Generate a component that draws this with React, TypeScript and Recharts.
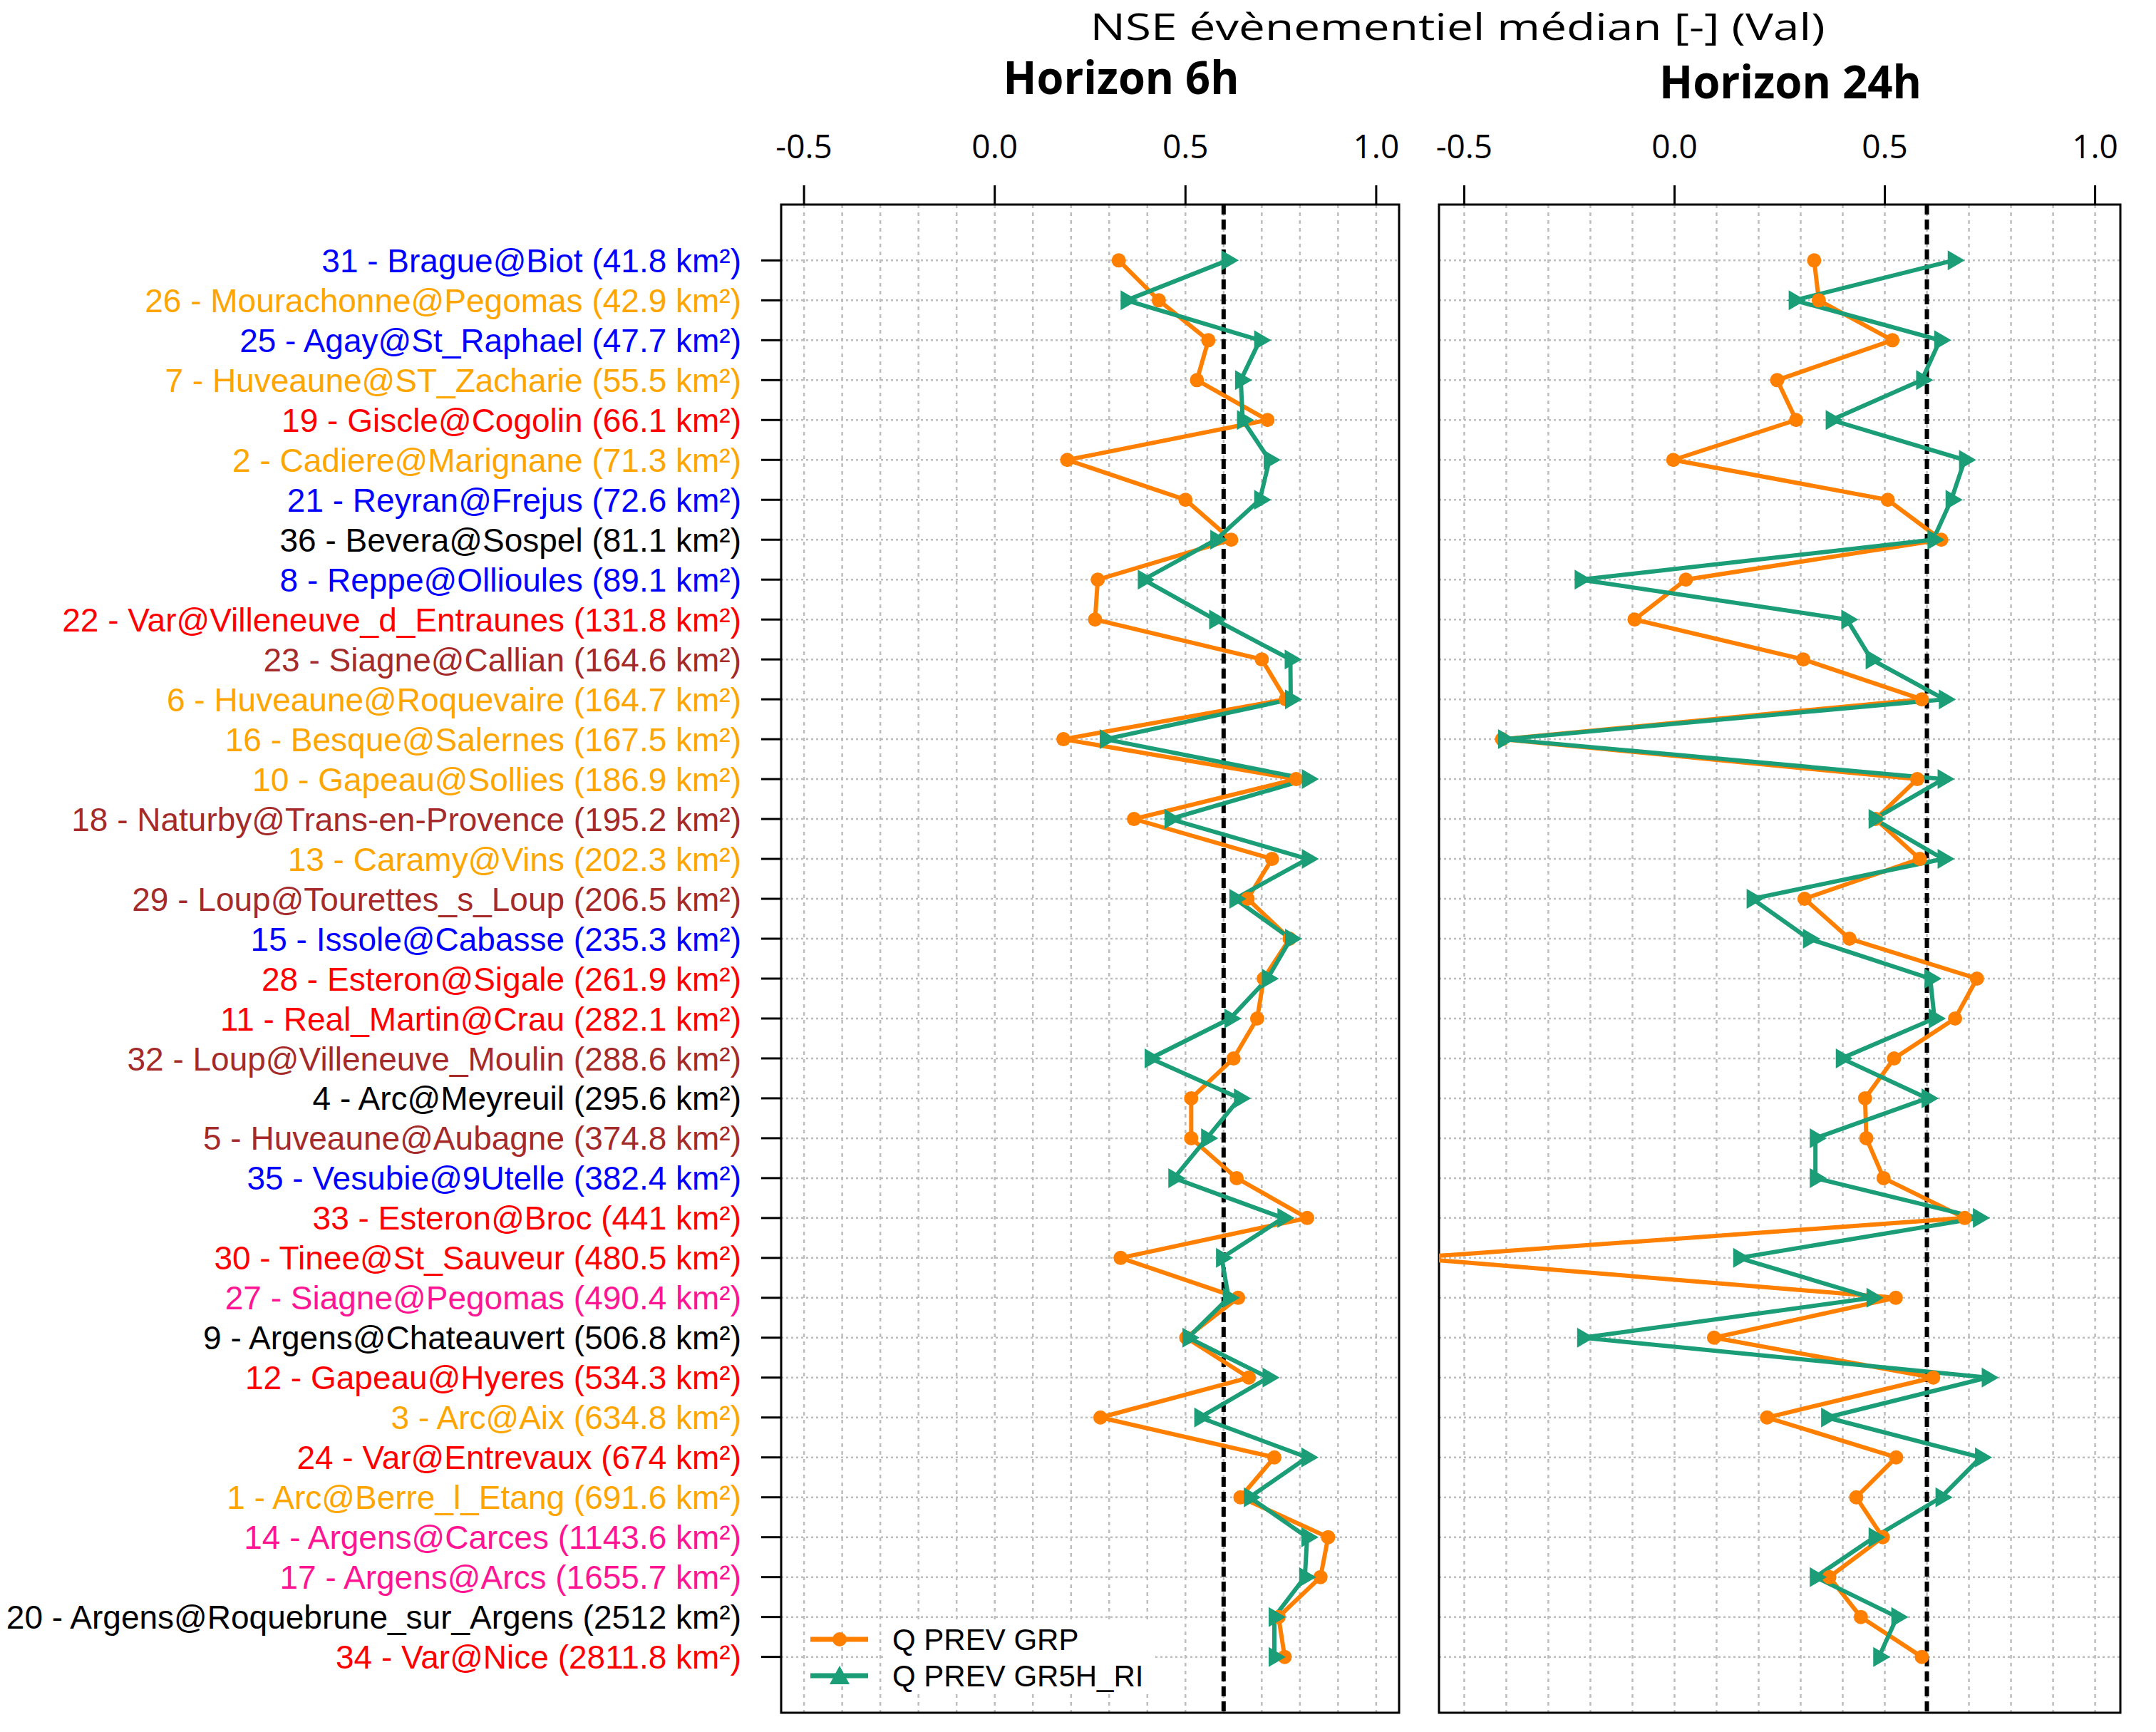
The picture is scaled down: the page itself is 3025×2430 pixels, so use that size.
import React from "react";
import {
  LineChart,
  Line,
  XAxis,
  YAxis,
  CartesianGrid,
  ReferenceLine,
  ReferenceArea,
} from "recharts";

// stations, top to bottom (sorted by catchment area)
const stations = [
  "31 - Brague@Biot (41.8 km²)",
  "26 - Mourachonne@Pegomas (42.9 km²)",
  "25 - Agay@St_Raphael (47.7 km²)",
  "7 - Huveaune@ST_Zacharie (55.5 km²)",
  "19 - Giscle@Cogolin (66.1 km²)",
  "2 - Cadiere@Marignane (71.3 km²)",
  "21 - Reyran@Frejus (72.6 km²)",
  "36 - Bevera@Sospel (81.1 km²)",
  "8 - Reppe@Ollioules (89.1 km²)",
  "22 - Var@Villeneuve_d_Entraunes (131.8 km²)",
  "23 - Siagne@Callian (164.6 km²)",
  "6 - Huveaune@Roquevaire (164.7 km²)",
  "16 - Besque@Salernes (167.5 km²)",
  "10 - Gapeau@Sollies (186.9 km²)",
  "18 - Naturby@Trans-en-Provence (195.2 km²)",
  "13 - Caramy@Vins (202.3 km²)",
  "29 - Loup@Tourettes_s_Loup (206.5 km²)",
  "15 - Issole@Cabasse (235.3 km²)",
  "28 - Esteron@Sigale (261.9 km²)",
  "11 - Real_Martin@Crau (282.1 km²)",
  "32 - Loup@Villeneuve_Moulin (288.6 km²)",
  "4 - Arc@Meyreuil (295.6 km²)",
  "5 - Huveaune@Aubagne (374.8 km²)",
  "35 - Vesubie@9Utelle (382.4 km²)",
  "33 - Esteron@Broc (441 km²)",
  "30 - Tinee@St_Sauveur (480.5 km²)",
  "27 - Siagne@Pegomas (490.4 km²)",
  "9 - Argens@Chateauvert (506.8 km²)",
  "12 - Gapeau@Hyeres (534.3 km²)",
  "3 - Arc@Aix (634.8 km²)",
  "24 - Var@Entrevaux (674 km²)",
  "1 - Arc@Berre_l_Etang (691.6 km²)",
  "14 - Argens@Carces (1143.6 km²)",
  "17 - Argens@Arcs (1655.7 km²)",
  "20 - Argens@Roquebrune_sur_Argens (2512 km²)",
  "34 - Var@Nice (2811.8 km²)",
];

const BLUE = "#0000ff";
const GOLD = "#ffa500";
const RED = "#ff0000";
const BLACK = "#000000";
const BROWN = "#a52a2a";
const PINK = "#ff1493";

const stationColors = [
  BLUE, GOLD, BLUE, GOLD, RED, GOLD, BLUE, BLACK, BLUE, RED,
  BROWN, GOLD, GOLD, GOLD, BROWN, GOLD, BROWN, BLUE, RED, RED,
  BROWN, BLACK, BROWN, BLUE, RED, RED, PINK, BLACK, RED, GOLD,
  RED, GOLD, PINK, PINK, BLACK, RED,
];

// NSE, horizon 6h
const grp6 = [
  0.325, 0.43, 0.56, 0.53, 0.715, 0.19, 0.5, 0.62, 0.27, 0.263,
  0.7, 0.763, 0.18, 0.79, 0.365, 0.727, 0.663, 0.773, 0.705, 0.688,
  0.626, 0.515, 0.515, 0.634, 0.819, 0.33, 0.638, 0.502, 0.666, 0.277,
  0.733, 0.644, 0.874, 0.854, 0.744, 0.76,
];
const gr5h6 = [
  0.61, 0.345, 0.695, 0.645, 0.65, 0.72, 0.695, 0.58, 0.39, 0.577,
  0.775, 0.776, 0.29, 0.82, 0.46, 0.82, 0.63, 0.776, 0.715, 0.617,
  0.408, 0.642, 0.556, 0.47, 0.756, 0.595, 0.613, 0.507, 0.717, 0.538,
  0.819, 0.668, 0.819, 0.813, 0.733, 0.733,
];

// NSE, horizon 24h
const grp24 = [
  0.332, 0.343, 0.518, 0.244, 0.289, -0.003, 0.507, 0.634, 0.027, -0.095,
  0.306, 0.588, -0.41, 0.577, 0.478, 0.583, 0.309, 0.416, 0.719, 0.667,
  0.522, 0.453, 0.456, 0.497, 0.69, -0.63, 0.526, 0.094, 0.615, 0.22,
  0.527, 0.432, 0.495, 0.368, 0.443, 0.588,
];
const gr5h24 = [
  0.663, 0.285, 0.631, 0.588, 0.373, 0.69, 0.658, 0.615, -0.224, 0.41,
  0.468, 0.642, -0.406, 0.639, 0.475, 0.639, 0.185, 0.319, 0.608, 0.618,
  0.397, 0.601, 0.335, 0.335, 0.723, 0.153, 0.47, -0.218, 0.744, 0.362,
  0.728, 0.634, 0.475, 0.335, 0.529, 0.486,
];

const xTicks = [-0.5, 0, 0.5, 1.0];
const xGrid = [-0.5, -0.4, -0.3, -0.2, -0.1, 0, 0.1, 0.2, 0.3, 0.4, 0.5, 0.6, 0.7, 0.8, 0.9, 1.0];
const xDomain = [-0.56, 1.06];
const threshold = 0.6;

const rows = stations.map((_, i) => i + 1);
const rowDomain = [-0.4, stations.length + 1.4];

const data = stations.map((name, i) => ({
  row: i + 1,
  name,
  grp6: grp6[i],
  gr5h6: gr5h6[i],
  grp24: grp24[i],
  gr5h24: gr5h24[i],
}));

const ORANGE = "#ff8000";
const GREEN = "#1b9e77";
const GRID = "#bdbdbd";

const series = [
  { name: "Q PREV GRP", color: ORANGE, shape: "circle" },
  { name: "Q PREV GR5H_RI", color: GREEN, shape: "triangle" },
];

const CircleDot = (props: any) => {
  const { cx, cy, index } = props;
  if (cx == null || cy == null) return <g key={"c" + index} />;
  return <circle key={"c" + index} cx={cx} cy={cy} r={10} fill={ORANGE} />;
};

const TriangleDot = (props: any) => {
  const { cx, cy, index } = props;
  if (cx == null || cy == null) return <g key={"t" + index} />;
  return (
    <path
      key={"t" + index}
      d={`M${cx - 8},${cy - 14} L${cx + 16},${cy} L${cx - 8},${cy + 14} Z`}
      fill={GREEN}
    />
  );
};

const XTick = (props: any) => {
  const { x, y, payload } = props;
  return (
    <text
      x={x}
      y={y - 38}
      textAnchor="middle"
      fontSize={46}
      fontFamily="'Open Sans', sans-serif"
      fill="#000"
    >
      {Number(payload.value).toFixed(1)}
    </text>
  );
};

const StationTick = (props: any) => {
  const { x, y, payload } = props;
  const i = payload.value - 1;
  return (
    <text
      x={x}
      y={y}
      dy="0.36em"
      textAnchor="end"
      fontSize={46}
      fontFamily="'Liberation Sans', Arial, sans-serif"
      fill={stationColors[i]}
    >
      {stations[i]}
    </text>
  );
};

function Panel({ left, width, margin, grpKey, gr5hKey, showLabels }: any) {
  return (
    <div style={{ position: "absolute", left, top: 0 }}>
      <LineChart width={width} height={2430} data={data} layout="vertical" margin={margin}>
        <CartesianGrid
          vertical={false}
          horizontalValues={rows}
          stroke={GRID}
          strokeWidth={2.5}
          strokeDasharray="3 4"
        />
        <CartesianGrid
          horizontal={false}
          verticalValues={xGrid}
          stroke={GRID}
          strokeWidth={2.5}
          strokeDasharray="5 6"
        />
        <XAxis
          type="number"
          orientation="top"
          domain={xDomain}
          allowDataOverflow
          ticks={xTicks}
          interval={0}
          height={60}
          tickSize={27}
          tickMargin={0}
          axisLine={false}
          tickLine={{ stroke: "#000", strokeWidth: 3 }}
          tick={<XTick />}
        />
        <YAxis
          type="number"
          dataKey="row"
          domain={rowDomain}
          allowDataOverflow
          ticks={rows}
          interval={0}
          hide={!showLabels}
          width={showLabels ? 1096 : 0}
          tickSize={28}
          tickMargin={28}
          axisLine={false}
          tickLine={{ stroke: "#000", strokeWidth: 3 }}
          tick={<StationTick />}
        />
        <ReferenceLine
          x={threshold}
          stroke="#000"
          strokeWidth={6}
          strokeDasharray="14 7"
        />
        <Line
          type="linear"
          dataKey={grpKey}
          name={series[0].name}
          stroke={ORANGE}
          strokeWidth={6}
          dot={CircleDot}
          activeDot={false}
          isAnimationActive={false}
        />
        <Line
          type="linear"
          dataKey={gr5hKey}
          name={series[1].name}
          stroke={GREEN}
          strokeWidth={6}
          dot={TriangleDot}
          activeDot={false}
          isAnimationActive={false}
        />
        <ReferenceArea
          x1={xDomain[0]}
          x2={xDomain[1]}
          y1={rowDomain[0]}
          y2={rowDomain[1]}
          fill="none"
          fillOpacity={0}
          stroke="#000"
          strokeWidth={3}
          ifOverflow="visible"
        />
      </LineChart>
    </div>
  );
}

function LegendBox() {
  return (
    <svg
      width={500}
      height={110}
      style={{ position: "absolute", left: 1130, top: 2270 }}
    >
      <rect x={110} y={2} width={380} height={104} fill="#fff" />
      {series.map((s, i) => {
        const cy = 30 + i * 51;
        return (
          <g key={s.name}>
            <line x1={7} x2={88} y1={cy} y2={cy} stroke={s.color} strokeWidth={7} />
            {s.shape === "circle" ? (
              <circle cx={48} cy={cy} r={10} fill={s.color} />
            ) : (
              <path d={`M${34},${cy + 12} L${48},${cy - 14} L${62},${cy + 12} Z`} fill={s.color} />
            )}
            <text
              x={122}
              y={cy}
              dy="0.36em"
              fontSize={42}
              fontFamily="'Liberation Sans', Arial, sans-serif"
              fill="#000"
            >
              {s.name}
            </text>
          </g>
        );
      })}
    </svg>
  );
}

export default function App() {
  return (
    <div
      style={{
        position: "absolute",
        left: 0,
        top: 0,
        width: 3025,
        height: 2430,
        background: "#fff",
        overflow: "hidden",
      }}
    >
      <Panel
        left={0}
        width={1990}
        margin={{ top: 227, right: 27, bottom: 27, left: 0 }}
        grpKey="grp6"
        gr5hKey="gr5h6"
        showLabels
      />
      <Panel
        left={1990}
        width={1035}
        margin={{ top: 227, right: 50, bottom: 27, left: 29 }}
        grpKey="grp24"
        gr5hKey="gr5h24"
        showLabels={false}
      />
      <LegendBox />
      <svg
        width={3025}
        height={200}
        style={{ position: "absolute", left: 0, top: 0, pointerEvents: "none" }}
      >
        <text
          x={2045}
          y={56}
          textAnchor="middle"
          fontSize={52}
          fontFamily="'Open Sans', sans-serif"
          textLength={1031}
          lengthAdjust="spacingAndGlyphs"
          fill="#000"
        >
          NSE évènementiel médian [-] (Val)
        </text>
        <text
          x={1573}
          y={132}
          textAnchor="middle"
          fontSize={64}
          fontWeight="bold"
          fontFamily="'Open Sans', sans-serif"
          textLength={331}
          lengthAdjust="spacingAndGlyphs"
          fill="#000"
        >
          Horizon 6h
        </text>
        <text
          x={2512}
          y={138}
          textAnchor="middle"
          fontSize={64}
          fontWeight="bold"
          fontFamily="'Open Sans', sans-serif"
          textLength={368}
          lengthAdjust="spacingAndGlyphs"
          fill="#000"
        >
          Horizon 24h
        </text>
      </svg>
    </div>
  );
}
